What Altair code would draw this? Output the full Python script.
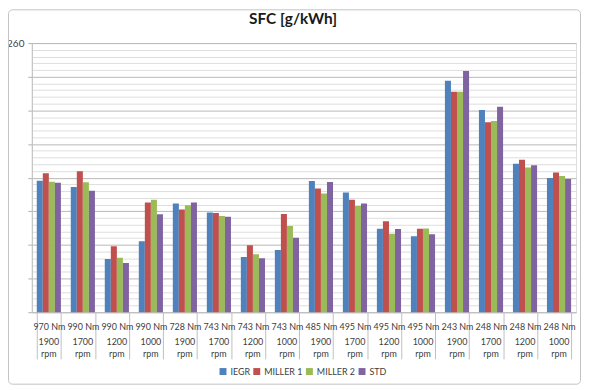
import altair as alt
import pandas as pd

torque = ["970 Nm", "990 Nm", "990 Nm", "990 Nm", "728 Nm", "743 Nm", "743 Nm", "743 Nm",
          "485 Nm", "495 Nm", "495 Nm", "495 Nm", "243 Nm", "248 Nm", "248 Nm", "248 Nm"]
rpm = ["1900 rpm", "1700 rpm", "1200 rpm", "1000 rpm"] * 4
series = ["IEGR", "MILLER 1", "MILLER 2", "STD"]
colors = ["#4F81BD", "#C0504D", "#9BBB59", "#8064A2"]

iegr = [219.1, 217.2, 195.8, 201.1, 212.3, 209.6, 196.4, 198.5, 219.0, 215.6, 204.8, 202.6, 248.8, 240.1, 224.1, 219.9]
miller1 = [221.3, 221.9, 199.6, 212.6, 210.5, 209.5, 199.9, 209.2, 216.8, 213.4, 207.0, 204.8, 245.5, 236.5, 225.3, 221.5]
miller2 = [218.8, 218.6, 196.2, 213.4, 211.8, 208.6, 197.2, 205.6, 215.3, 211.6, 203.3, 204.9, 245.5, 236.8, 223.0, 220.5]
std = [218.5, 216.1, 194.6, 209.1, 212.6, 208.4, 196.0, 202.1, 218.7, 212.3, 204.7, 203.2, 251.7, 241.1, 223.7, 219.6]

y_min, y_max, y_top_label = 180, 260, 260

cats = [f"{t}|{r}" for t, r in zip(torque, rpm)]
rows = []
for name, vals in zip(series, [iegr, miller1, miller2, std]):
    for c, v in zip(cats, vals):
        rows.append({"cat": c, "series": name, "value": v})
df = pd.DataFrame(rows)

FONT = "Lato"
TXT = "#404040"
W, H = 548, 271
FS = 9

x_scale = alt.Scale(domain=cats, paddingInner=0.29, paddingOuter=0.145)

axis_torque = alt.Axis(
    title=None, labelAngle=0, labelExpr="split(datum.label, '|')[0]",
    labelFont=FONT, labelFontSize=FS, labelColor=TXT, labelPadding=-37,
    tickBand="extent", tickSize=47, tickColor="#c0c0c0",
    domainColor="#bfbfbf", grid=False, orient="bottom", labelBaseline="top",
)
# second label row (rpm), drawn by a top-oriented axis moved below the plot
axis_rpm = alt.Axis(
    title=None, labelAngle=0, labelExpr="split(split(datum.label, '|')[1], ' ')",
    labelFont=FONT, labelFontSize=FS, labelColor=TXT, labelPadding=0,
    labelLineHeight=11.5, ticks=False, tickSize=0, domain=False, grid=False,
    orient="top", offset=-(H + 26), labelBaseline="top",
)

y_axis = alt.Axis(
    title=None, values=list(range(y_min, y_max + 1, 2)),
    labelExpr=f"datum.value === {y_top_label} ? '{y_top_label}' : ''",
    labelFont=FONT, labelFontSize=10, labelColor=TXT, labelPadding=4,
    gridColor={"condition": {"test": "datum.value % 10 === 0", "value": "#b8b8b8"}, "value": "#dedede"},
    tickOpacity={"condition": {"test": "datum.value % 10 === 0", "value": 1}, "value": 0},
    tickColor="#b0b0b0", tickSize=4, domainColor="#bfbfbf",
)

base = alt.Chart(df)

bars = base.mark_bar(clip=True).encode(
    x=alt.X("cat:N", scale=x_scale, sort=cats, axis=axis_torque),
    xOffset=alt.XOffset("series:N", sort=series, scale=alt.Scale(paddingInner=0, paddingOuter=0)),
    y=alt.Y("value:Q", scale=alt.Scale(domain=[y_min, y_max], nice=False, zero=False), axis=y_axis),
    color=alt.Color(
        "series:N", sort=series, scale=alt.Scale(domain=series, range=colors),
        legend=alt.Legend(
            title=None, orient="none", direction="horizontal", legendX=188, legendY=326,
            padding=0, symbolType="square", symbolSize=49, symbolStrokeWidth=0,
            labelFont=FONT, labelFontSize=FS, labelColor=TXT, columnPadding=2,
            labelOffset=3,
        ),
    ),
)

ghost = base.mark_bar(opacity=0).encode(
    x=alt.X("cat:N", scale=x_scale, sort=cats, axis=axis_rpm),
)

frame = alt.Chart(alt.Data(values=[{"f": 1}])).mark_rect(
    fill=None, stroke="#c4c4c4", strokeWidth=1, cornerRadius=4, clip=False
).encode(
    x=alt.value(-23.5), x2=alt.value(552.5), y=alt.value(-33.5), y2=alt.value(343.5)
)

chart = alt.layer(frame, bars, ghost).resolve_axis(x="independent").properties(
    width=W, height=H,
    autosize=alt.AutoSizeParams(type="none"),
    padding={"left": 24, "top": 34, "right": 5, "bottom": 73},
    title=alt.TitleParams(
        "SFC [g/kWh]", font=FONT, fontSize=15.5, fontWeight="bold", color="#1a1a1a",
        anchor="middle", frame="group", dx=-11, offset=-18,
    ),
).configure_view(stroke=None).configure(background="white")

chart.save("out.html", embed_options={"renderer": "svg", "actions": False})
